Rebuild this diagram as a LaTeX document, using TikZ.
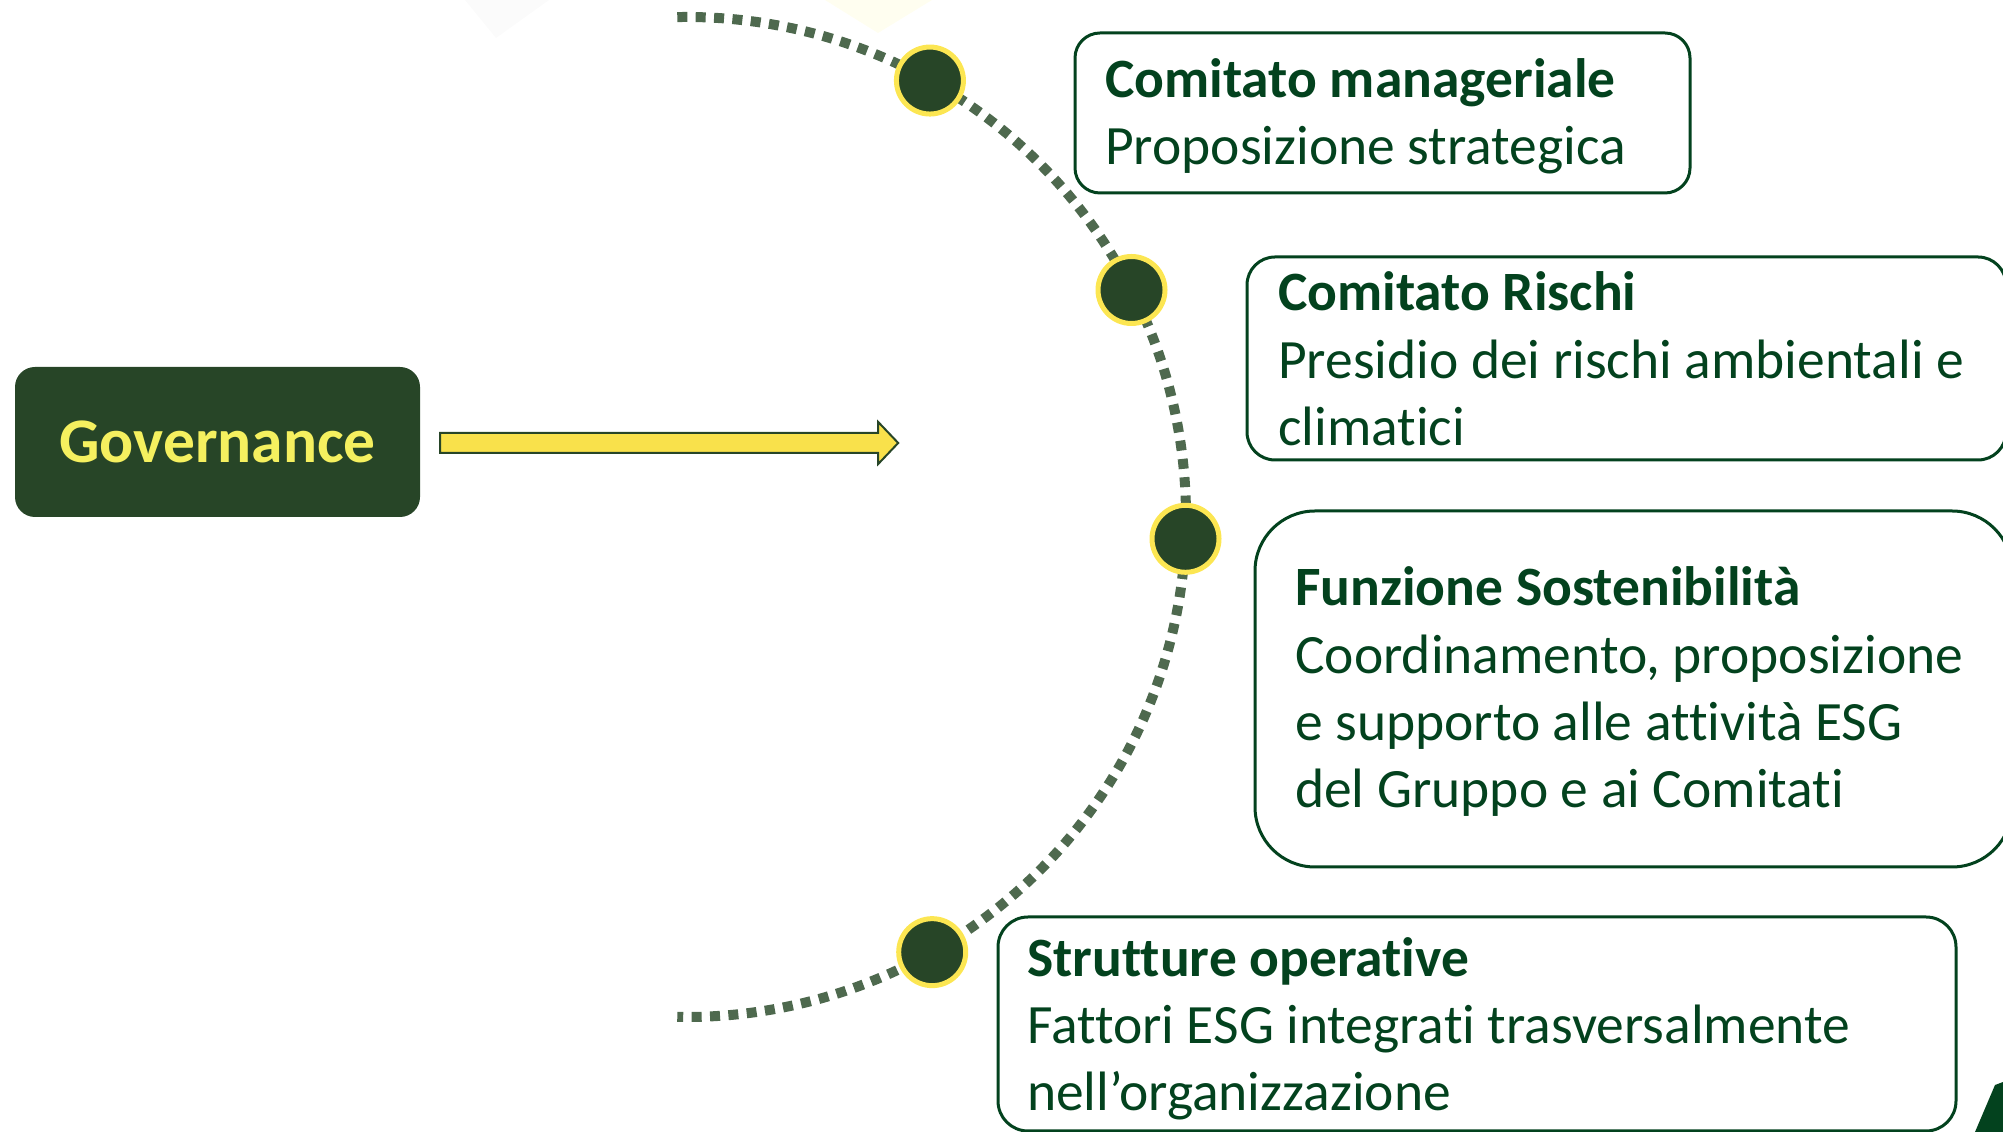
\documentclass[tikz,border=0pt]{standalone}
\usepackage{fontspec}
\setmainfont{Carlito}[Ligatures={NoCommon}]
\usetikzlibrary{calc,positioning}

\definecolor{govgreen}{RGB}{39,69,39}
\definecolor{textgreen}{RGB}{3,66,30}
\definecolor{govyellow}{RGB}{245,240,95}
\definecolor{arrowyellow}{RGB}{249,225,75}
\definecolor{ringyellow}{RGB}{252,230,82}
\definecolor{trailgreen}{RGB}{78,105,78}

\tikzset{
  govbox/.style={fill=govgreen, text=govyellow, rounded corners=20pt, inner sep=0pt,
    minimum width=405pt, minimum height=150pt, font=\bfseries\fontsize{63.5}{76}\selectfont},
  infobox/.style={draw=textgreen, line width=3pt, inner sep=0pt},
  milestone/.style={circle, fill=govgreen, draw=ringyellow, line width=5pt, minimum size=67pt, inner sep=0pt},
  boxtitle/.style={anchor=base west, inner sep=0pt, text=textgreen, font=\bfseries\fontsize{55.5}{66}\selectfont},
  boxline/.style={anchor=base west, inner sep=0pt, text=textgreen, font=\fontsize{55.5}{66}\selectfont},
  trail/.style={trailgreen, line width=10pt, dash pattern=on 10pt off 8.4pt},
}

\begin{document}
\begin{tikzpicture}[x=1pt, y=1pt]
	\useasboundingbox (0,0) rectangle (2003,1132);
	\clip (0,0) rectangle (2003,1132);

	% faint shapes at the top edge
	\fill[black!1.5] (465,1132) -- (549,1132) -- (496,1094) -- cycle;
	\fill[yellow!6] (825,1132) -- (932,1132) -- (878,1099) -- cycle;

	% dotted half circle
	\coordinate (ctr) at (686,615);
	\draw[trail] ($(ctr)+(91:500)$) arc[start angle=91, end angle=-91, radius=500];

	% governance and arrow
	\node[govbox] (gov) at (217.5,690) {Governance};
	\coordinate (tail) at ($(gov.east)+(20,-1)$);
	\coordinate (tip) at ($(tail)+(458,0)$);
	\draw[govgreen, line width=2pt, fill=arrowyellow]
		($(tail)+(0,10)$) -- ($(tip)+(-20,10)$) -- ($(tip)+(-20,21)$) -- (tip)
		-- ($(tip)+(-20,-21)$) -- ($(tip)+(-20,-10)$) -- ($(tail)+(0,-10)$) -- cycle;

	% milestones on the arc
	\node[milestone] (m1) at ($(ctr)+(60.8:500)$) {};
	\node[milestone] (m2) at ($(ctr)+(27:500)$) {};
	\node[milestone] (m3) at ($(ctr)+(-2.5:500)$) {};
	\node[milestone] (m4) at ($(ctr)+(-60.5:500)$) {};

	% boxes
	\node[infobox, rounded corners=25pt, minimum width=615pt, minimum height=160pt] (mgr) at (1382.5,1019) {};
	\node[boxtitle] (mgr-t) at (1105,1034) {Comitato manageriale};
	\node[boxline] (mgr-1) at (1105,967) {Proposizione strategica};

	\node[infobox, rounded corners=28pt, minimum width=759pt, minimum height=203pt] (risk) at (1626.5,773.5) {};
	\node[boxtitle] (risk-t) at (1278,821) {Comitato Rischi};
	\node[boxline] (risk-1) at (1278,753) {Presidio dei rischi ambientali e};
	\node[boxline] (risk-2) at (1278,686) {climatici};

	\node[infobox, rounded corners=60pt, minimum width=757pt, minimum height=356pt] (esg) at (1633.5,443) {};
	\node[boxtitle] (esg-t) at (1295,526) {Funzione Sostenibilità};
	\node[boxline] (esg-1) at (1295,458) {Coordinamento, proposizione};
	\node[boxline] (esg-2) at (1295,391) {e supporto alle attività ESG};
	\node[boxline] (esg-3) at (1295,324) {del Gruppo e ai Comitati};

	\node[infobox, rounded corners=30pt, minimum width=958pt, minimum height=214pt] (ops) at (1477,108) {};
	\node[boxtitle] (ops-t) at (1027,155) {Strutture operative};
	\node[boxline] (ops-1) at (1027,88) {Fattori ESG integrati trasversalmente};
	\node[boxline] (ops-2) at (1027,21) {nell’organizzazione};

	% corner shape
	\fill[textgreen] (1975,0) -- (1995,47) -- (2003,50) -- (2003,0) -- cycle;
\end{tikzpicture}
\end{document}
